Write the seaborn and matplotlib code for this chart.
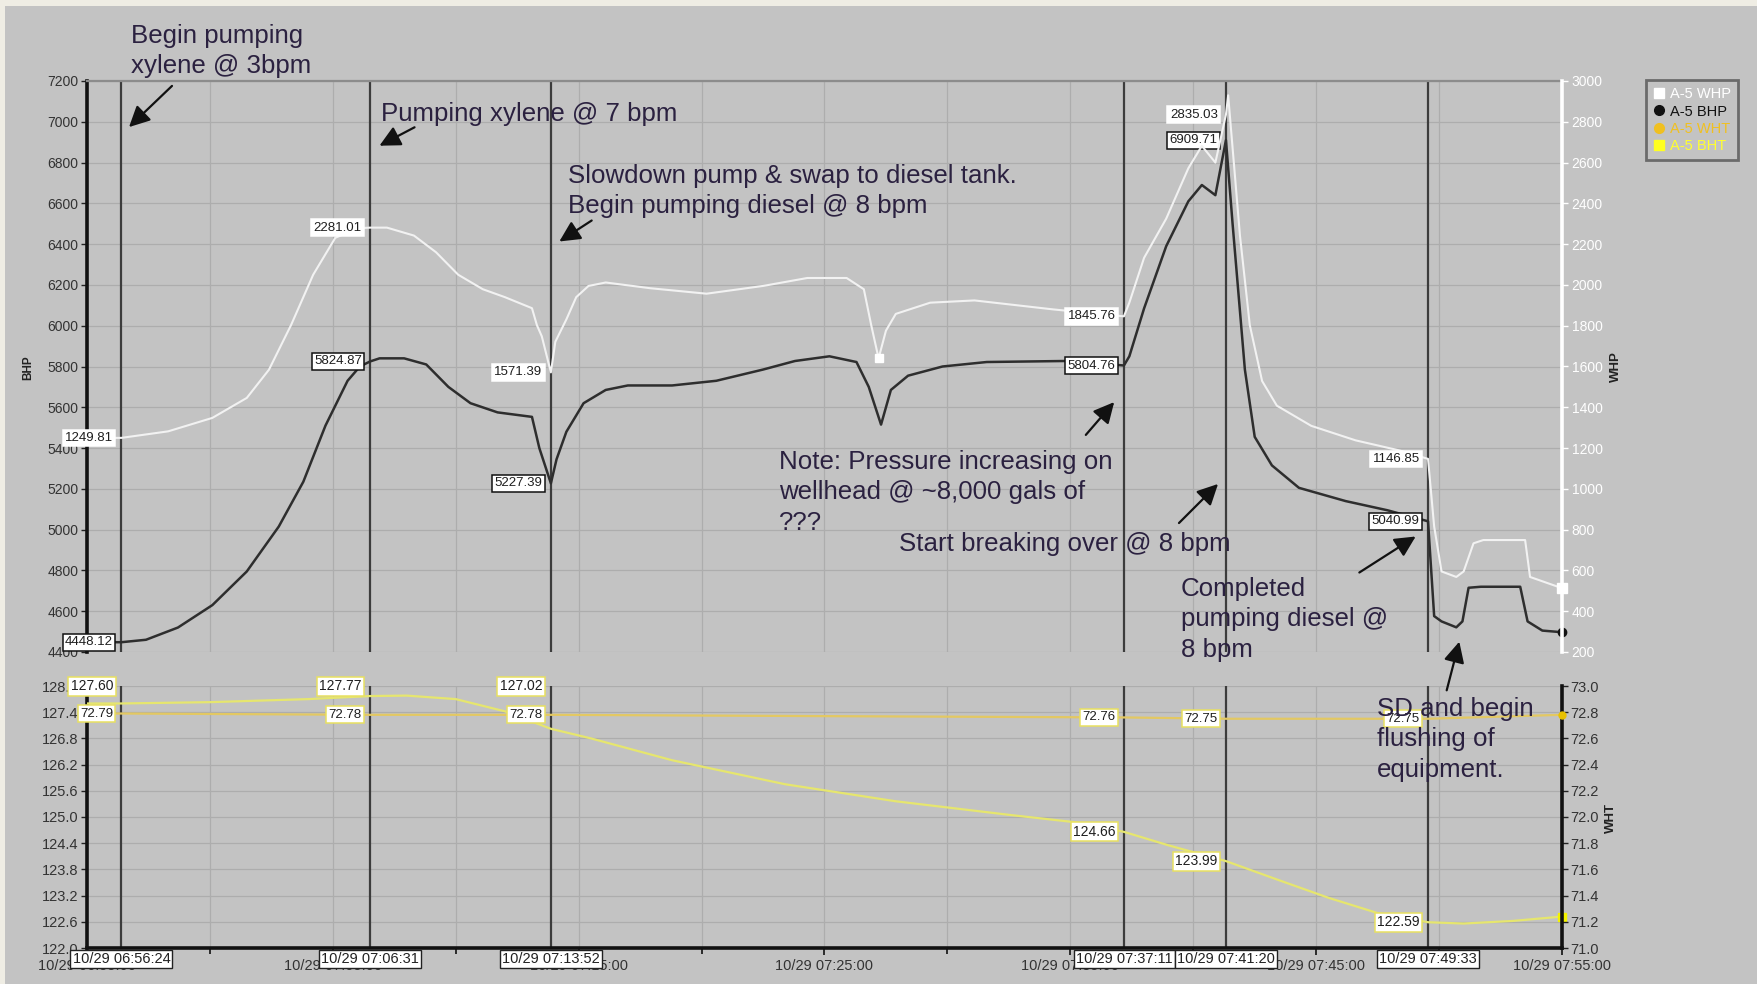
import numpy as np
import pandas as pd
import matplotlib
matplotlib.use("Agg")
import matplotlib.pyplot as plt
import seaborn as sns
from matplotlib.lines import Line2D
from matplotlib.patches import Rectangle, FancyArrowPatch
from matplotlib.ticker import FuncFormatter

# ---------------- data (minutes after 10/29 06:55:00) ----------------
bhp_t = [0, 1.4, 2.4, 3.7, 5.1, 6.5, 7.8, 8.8, 9.7, 10.6, 11.1, 11.52, 11.9, 12.9, 13.8, 14.7,
         15.6, 16.7, 18.1, 18.4, 18.87, 19.1, 19.5, 20.2, 21.1, 22.0, 23.8, 25.6, 27.5, 28.8,
         30.2, 31.3, 31.8, 32.3, 32.7, 33.4, 34.8, 36.6, 39.8, 42.18, 42.4, 43.0, 43.9, 44.8,
         45.35, 45.9, 46.33, 46.6, 47.1, 47.5, 48.2, 49.3, 51.2, 52.9, 54.55, 54.8, 55.1, 55.7,
         55.95, 56.2, 56.7, 58.3, 58.6, 59.2, 60]
bhp_v = [4448, 4448, 4460, 4520, 4630, 4795, 5015, 5235, 5510, 5730, 5800, 5825, 5840, 5840, 5810, 5700,
         5620, 5575, 5553, 5400, 5227, 5345, 5480, 5620, 5685, 5707, 5707, 5730, 5785, 5827,
         5850, 5822, 5700, 5515, 5685, 5755, 5800, 5822, 5827, 5805, 5850, 6085, 6390, 6610,
         6690, 6640, 6910, 6500, 5785, 5455, 5315, 5205, 5140, 5095, 5041, 4576, 4550, 4521,
         4550, 4715, 4720, 4720, 4550, 4505, 4497]

whp_t = [0, 1.4, 3.3, 5.1, 6.5, 7.4, 8.3, 9.2, 10.1, 11.0, 11.52, 12.2, 13.3, 14.2, 15.1, 16.1,
         17.0, 18.1, 18.3, 18.5, 18.87, 19.05, 19.5, 19.9, 20.4, 21.1, 22.9, 25.2, 27.5, 29.3,
         30.9, 31.6, 31.9, 32.2, 32.5, 32.9, 34.3, 36.1, 39.3, 42.18, 42.4, 43.0, 43.9, 44.8,
         45.35, 45.9, 46.33, 46.42, 46.9, 47.3, 47.8, 48.4, 49.8, 51.6, 53.4, 54.55, 54.8, 55.1,
         55.7, 56.0, 56.4, 56.8, 58.5, 58.7, 60]
whp_v = [1250, 1250, 1282, 1348, 1446, 1584, 1803, 2050, 2231, 2278, 2281, 2281, 2242, 2160, 2050, 1979,
         1940, 1886, 1803, 1748, 1571, 1721, 1831, 1940, 1995, 2012, 1984, 1957, 1995, 2034,
         2034, 1979, 1803, 1640, 1776, 1858, 1913, 1924, 1880, 1846, 1913, 2133, 2325, 2572,
         2682, 2600, 2835, 2930, 2242, 1803, 1529, 1408, 1309, 1238, 1188, 1147, 815, 595,
         568, 595, 733, 749, 749, 568, 513]

bht_t = [0, 1.4, 5, 9, 11.52, 13, 15, 17, 18.87, 20.5, 23.8, 28.4, 32.9, 37.5, 40.2, 42.18,
         44.0, 46.33, 48.5, 50.5, 52.5, 54.55, 56, 58, 60]
bht_v = [127.60, 127.60, 127.63, 127.70, 127.77, 127.78, 127.70, 127.42, 127.02, 126.80, 126.30,
         125.75, 125.36, 125.05, 124.88, 124.66, 124.35, 123.99, 123.55, 123.15, 122.80, 122.59,
         122.56, 122.62, 122.72]

wht_t = [0, 1.4, 11.52, 18.87, 30, 42.18, 46.33, 54.55, 60]
wht_v = [72.79, 72.79, 72.78, 72.78, 72.77, 72.76, 72.75, 72.75, 72.78]

event_times = ["06:56:24", "07:06:31", "07:13:52", "07:37:11", "07:41:20", "07:49:33"]
bhp_labels = ["4448.12", "5824.87", "5227.39", "5804.76", "6909.71", "5040.99"]
whp_labels = ["1249.81", "2281.01", "1571.39", "1845.76", "2835.03", "1146.85"]
bht_labels = ["127.60", "127.77", "127.02", "124.66", "123.99", "122.59"]
wht_labels = ["72.79", "72.78", "72.78", "72.76", "72.75", "72.75"]

notes = ["Begin pumping\nxylene @ 3bpm",
         "Pumping xylene @ 7 bpm",
         "Slowdown pump & swap to diesel tank.\nBegin pumping diesel @ 8 bpm",
         "Note: Pressure increasing on\nwellhead @ ~8,000 gals of\n???",
         "Start breaking over @ 8 bpm",
         "Completed\npumping diesel @\n8 bpm",
         "SD and begin\nflushing of\nequipment."]

series_names = ["A-5 WHP", "A-5 BHP", "A-5 WHT", "A-5 BHT"]


def to_min(s):
    h, m, sec = [int(p) for p in s.split(":")]
    return (h * 60 + m + sec / 60.0) - (6 * 60 + 55)


ev = [to_min(s) for s in event_times]

# ---------------- style ----------------
sns.set_style("white")
plt.rcParams['font.family'] = ['Liberation Sans', 'DejaVu Sans']

W, H = 1758, 984
BG = '#c3c3c3'
GRID = '#adadad'
TXT = '#2b2140'

fig = plt.figure(figsize=(W / 100, H / 100), dpi=100)
fig.patch.set_facecolor('#efede4')
fig.add_artist(Rectangle((5 / W, 0), 1 - 5 / W, 1 - 6 / H, transform=fig.transFigure,
                         facecolor=BG, edgecolor='none', zorder=-10))


def fx(px):
    return px / W


def fy(py):
    return 1 - py / H


L, R = 87, 1562
ax1 = fig.add_axes([fx(L), fy(652), (R - L) / W, (652 - 81) / H])
ax2 = fig.add_axes([fx(L), fy(948), (R - L) / W, (948 - 686) / H])
for a in (ax1, ax2):
    a.set_facecolor(BG)
ax1r = ax1.twinx()
ax2r = ax2.twinx()

# grids
for a, yt in ((ax1, np.arange(4400, 7201, 200)), (ax2, np.round(np.arange(122, 128.01, 0.6), 1))):
    a.set_xlim(0, 60)
    a.set_xticks(range(0, 61, 10))
    a.set_xticks(range(5, 60, 10), minor=True)
    a.set_yticks(yt)
    a.grid(True, which='both', color=GRID, lw=0.9)
    a.set_axisbelow(True)

ax1.set_ylim(4400, 7200)
ax1r.set_ylim(200, 3000)
ax1r.set_yticks(np.arange(200, 3001, 200))
ax2.set_ylim(122, 128)
ax2r.set_ylim(71, 73)
ax2r.set_yticks(np.round(np.arange(71, 73.01, 0.2), 1))
ax1r.set_xlim(0, 60)
ax2r.set_xlim(0, 60)

# event lines
for t in ev:
    for a in (ax1, ax2):
        a.axvline(t, color='#3c3c3c', lw=1.6, zorder=1.5)

# series
df_bhp = pd.DataFrame({'t': bhp_t, 'v': bhp_v})
df_whp = pd.DataFrame({'t': whp_t, 'v': whp_v})
df_bht = pd.DataFrame({'t': bht_t, 'v': bht_v})
df_wht = pd.DataFrame({'t': wht_t, 'v': wht_v})

sns.lineplot(data=df_bhp, x='t', y='v', ax=ax1, color='#2e2e2e', lw=1.8, estimator=None, sort=False, zorder=3)
sns.lineplot(data=df_whp, x='t', y='v', ax=ax1r, color='#f2f2f2', lw=1.5, estimator=None, sort=False, zorder=3)
sns.lineplot(data=df_wht, x='t', y='v', ax=ax2r, color='#e3c862', lw=1.6, estimator=None, sort=False, zorder=3)
sns.lineplot(data=df_bht, x='t', y='v', ax=ax2, color='#e6e66e', lw=1.6, estimator=None, sort=False, zorder=3)

# end / cursor markers
ax1.plot([bhp_t[-1]], [bhp_v[-1]], 'o', color='#111111', ms=6, clip_on=False, zorder=5)
ax1r.plot([whp_t[-1]], [whp_v[-1]], 's', color='white', ms=7, clip_on=False, zorder=5)
ax1r.plot([32.2], [whp_v[whp_t.index(32.2)]], 's', color='white', ms=6, zorder=5)
ax2.plot([bht_t[-1]], [bht_v[-1]], 's', color='#f4f400', ms=6, clip_on=False, zorder=5)
ax2r.plot([wht_t[-1]], [wht_v[-1]], 'o', color='#e8c000', ms=5, clip_on=False, zorder=5)

for a in (ax1, ax1r, ax2, ax2r):
    a.set_xlabel('')
    a.set_ylabel('')

# spines & ticks
for a in (ax1, ax1r, ax2, ax2r):
    for s in a.spines.values():
        s.set_visible(False)
ax1.spines['left'].set_visible(True)
ax1.spines['left'].set_color('#111111')
ax1.spines['left'].set_linewidth(2.6)
ax1.spines['top'].set_visible(True)
ax1.spines['top'].set_color('#8c8c8c')
ax1.spines['top'].set_linewidth(1.6)
ax1r.spines['right'].set_visible(True)
ax1r.spines['right'].set_color('white')
ax1r.spines['right'].set_linewidth(2.6)
ax2.spines['left'].set_visible(True)
ax2.spines['left'].set_color('#111111')
ax2.spines['left'].set_linewidth(2.6)
ax2.spines['bottom'].set_visible(True)
ax2.spines['bottom'].set_color('#111111')
ax2.spines['bottom'].set_linewidth(2.6)
ax2r.spines['right'].set_visible(True)
ax2r.spines['right'].set_color('#111111')
ax2r.spines['right'].set_linewidth(2.6)

ax1.tick_params(axis='x', which='both', bottom=False, labelbottom=False)
ax1r.tick_params(axis='x', which='both', bottom=False, labelbottom=False)
ax2r.tick_params(axis='x', which='both', bottom=False, labelbottom=False)
ax1.tick_params(axis='y', left=True, length=4, width=1, color='#222222', labelsize=10, labelcolor='#333333', pad=2)
ax1r.tick_params(axis='y', right=True, length=4, width=1, color='white', labelsize=10, labelcolor='white', pad=3)
ax2.tick_params(axis='y', left=True, length=4, width=1, color='#222222', labelsize=10.5, labelcolor='#333333', pad=2)
ax2r.tick_params(axis='y', right=True, length=4, width=1, color='#222222', labelsize=10.5, labelcolor='#333333', pad=2)
ax2.tick_params(axis='x', which='major', bottom=True, length=5, width=1.2, color='#111111', labelsize=10.5,
                labelcolor='#333333', pad=3)
ax2.tick_params(axis='x', which='minor', bottom=True, length=4, width=1.2, color='#111111')

ax1.yaxis.set_major_formatter(FuncFormatter(lambda v, p: f"{v:.0f}"))
ax1r.yaxis.set_major_formatter(FuncFormatter(lambda v, p: f"{v:.0f}"))
ax2.yaxis.set_major_formatter(FuncFormatter(lambda v, p: f"{v:.1f}"))
ax2r.yaxis.set_major_formatter(FuncFormatter(lambda v, p: f"{v:.1f}"))


def xfmt(v, p):
    tot = 6 * 60 + 55 + v
    return f"10/29 {int(tot // 60):02d}:{int(round(tot % 60)):02d}:00"


ax2.xaxis.set_major_formatter(FuncFormatter(xfmt))


# value labels
def vlabel(ax, t, v, txt, ec, ycoords='data', fs=9.5):
    ax.annotate(txt, xy=(t, v), xycoords=('data', ycoords), xytext=(-6, 0), textcoords='offset points',
                ha='right', va='center', fontsize=fs, color='#1e1e1e', zorder=20, annotation_clip=False,
                bbox=dict(boxstyle='square,pad=0.18', fc='white', ec=ec, lw=1.1))


for i, t in enumerate(ev):
    vlabel(ax1r, t, float(whp_labels[i]), whp_labels[i], 'white')
    vlabel(ax1, t, float(bhp_labels[i]), bhp_labels[i], '#111111')
    vlabel(ax2r, t, float(wht_labels[i]), wht_labels[i], '#e8e060')
    if i < 3:
        vlabel(ax2, t, 1.0, bht_labels[i], '#e8e060', ycoords='axes fraction', fs=10)
    else:
        vlabel(ax2, t, float(bht_labels[i]), bht_labels[i], '#e8e060', fs=10)
    ax2.annotate("10/29 " + event_times[i], xy=(t, 0), xycoords=('data', 'axes fraction'),
                 xytext=(0, -3), textcoords='offset points', ha='center', va='top', fontsize=10.5,
                 color='#222222', zorder=20, annotation_clip=False,
                 bbox=dict(boxstyle='square,pad=0.15', fc='white', ec='#222222', lw=1))

# axis titles
fig.text(fx(28), fy(368), 'BHP', rotation=90, ha='center', va='center', fontsize=8.5, fontweight='bold', color='#222222')
fig.text(fx(1616), fy(367), 'WHP', rotation=90, ha='center', va='center', fontsize=9.5, fontweight='bold', color='#222222')
fig.text(fx(1611), fy(818), 'WHT', rotation=90, ha='center', va='center', fontsize=9.5, fontweight='bold', color='#222222')

# notes with arrows (figure pixel positions, top-left origin)
note_pos = [(131, 24), (381, 102), (568, 164), (779, 450), (899, 532), (1181, 577), (1377, 697)]
arrows = [((174, 84), (127, 129)), ((417, 126), (377, 147)), ((594, 219), (557, 243)),
          ((1084, 437), (1116, 400)), ((1177, 525), (1220, 482)), ((1357, 574), (1418, 535)),
          ((1446, 693), (1460, 639))]
for txt, (x, y) in zip(notes, note_pos):
    fig.text(fx(x), fy(y), txt, ha='left', va='top', fontsize=18.6, color=TXT, linespacing=1.33, zorder=30)
for (a, b) in arrows:
    fig.add_artist(FancyArrowPatch((fx(a[0]), fy(a[1])), (fx(b[0]), fy(b[1])), transform=fig.transFigure,
                                   arrowstyle='-|>,head_length=0.9,head_width=0.45', mutation_scale=14,
                                   color='#111111', lw=1.6, zorder=30))

# legend
handles = [Line2D([], [], ls='none', marker='s', mfc='white', mec='white', ms=7, label=series_names[0]),
           Line2D([], [], ls='none', marker='o', mfc='#111111', mec='#111111', ms=7, label=series_names[1]),
           Line2D([], [], ls='none', marker='o', mfc='#f0c020', mec='#f0c020', ms=7, label=series_names[2]),
           Line2D([], [], ls='none', marker='s', mfc='#ffff20', mec='#ffff20', ms=7, label=series_names[3])]
leg = fig.legend(handles=handles, loc='upper left', bbox_to_anchor=(fx(1646), fy(80)), frameon=True,
                 facecolor=BG, edgecolor='#555555', fontsize=10.5, handlelength=0.8, handletextpad=0.35,
                 borderpad=0.5, labelspacing=0.22, borderaxespad=0, fancybox=False)
leg.get_frame().set_linewidth(2)
for t, c in zip(leg.get_texts(), ['white', '#111111', '#f0c020', '#ffff30']):
    t.set_color(c)

fig.savefig("out.png", dpi=100, facecolor=fig.get_facecolor())
